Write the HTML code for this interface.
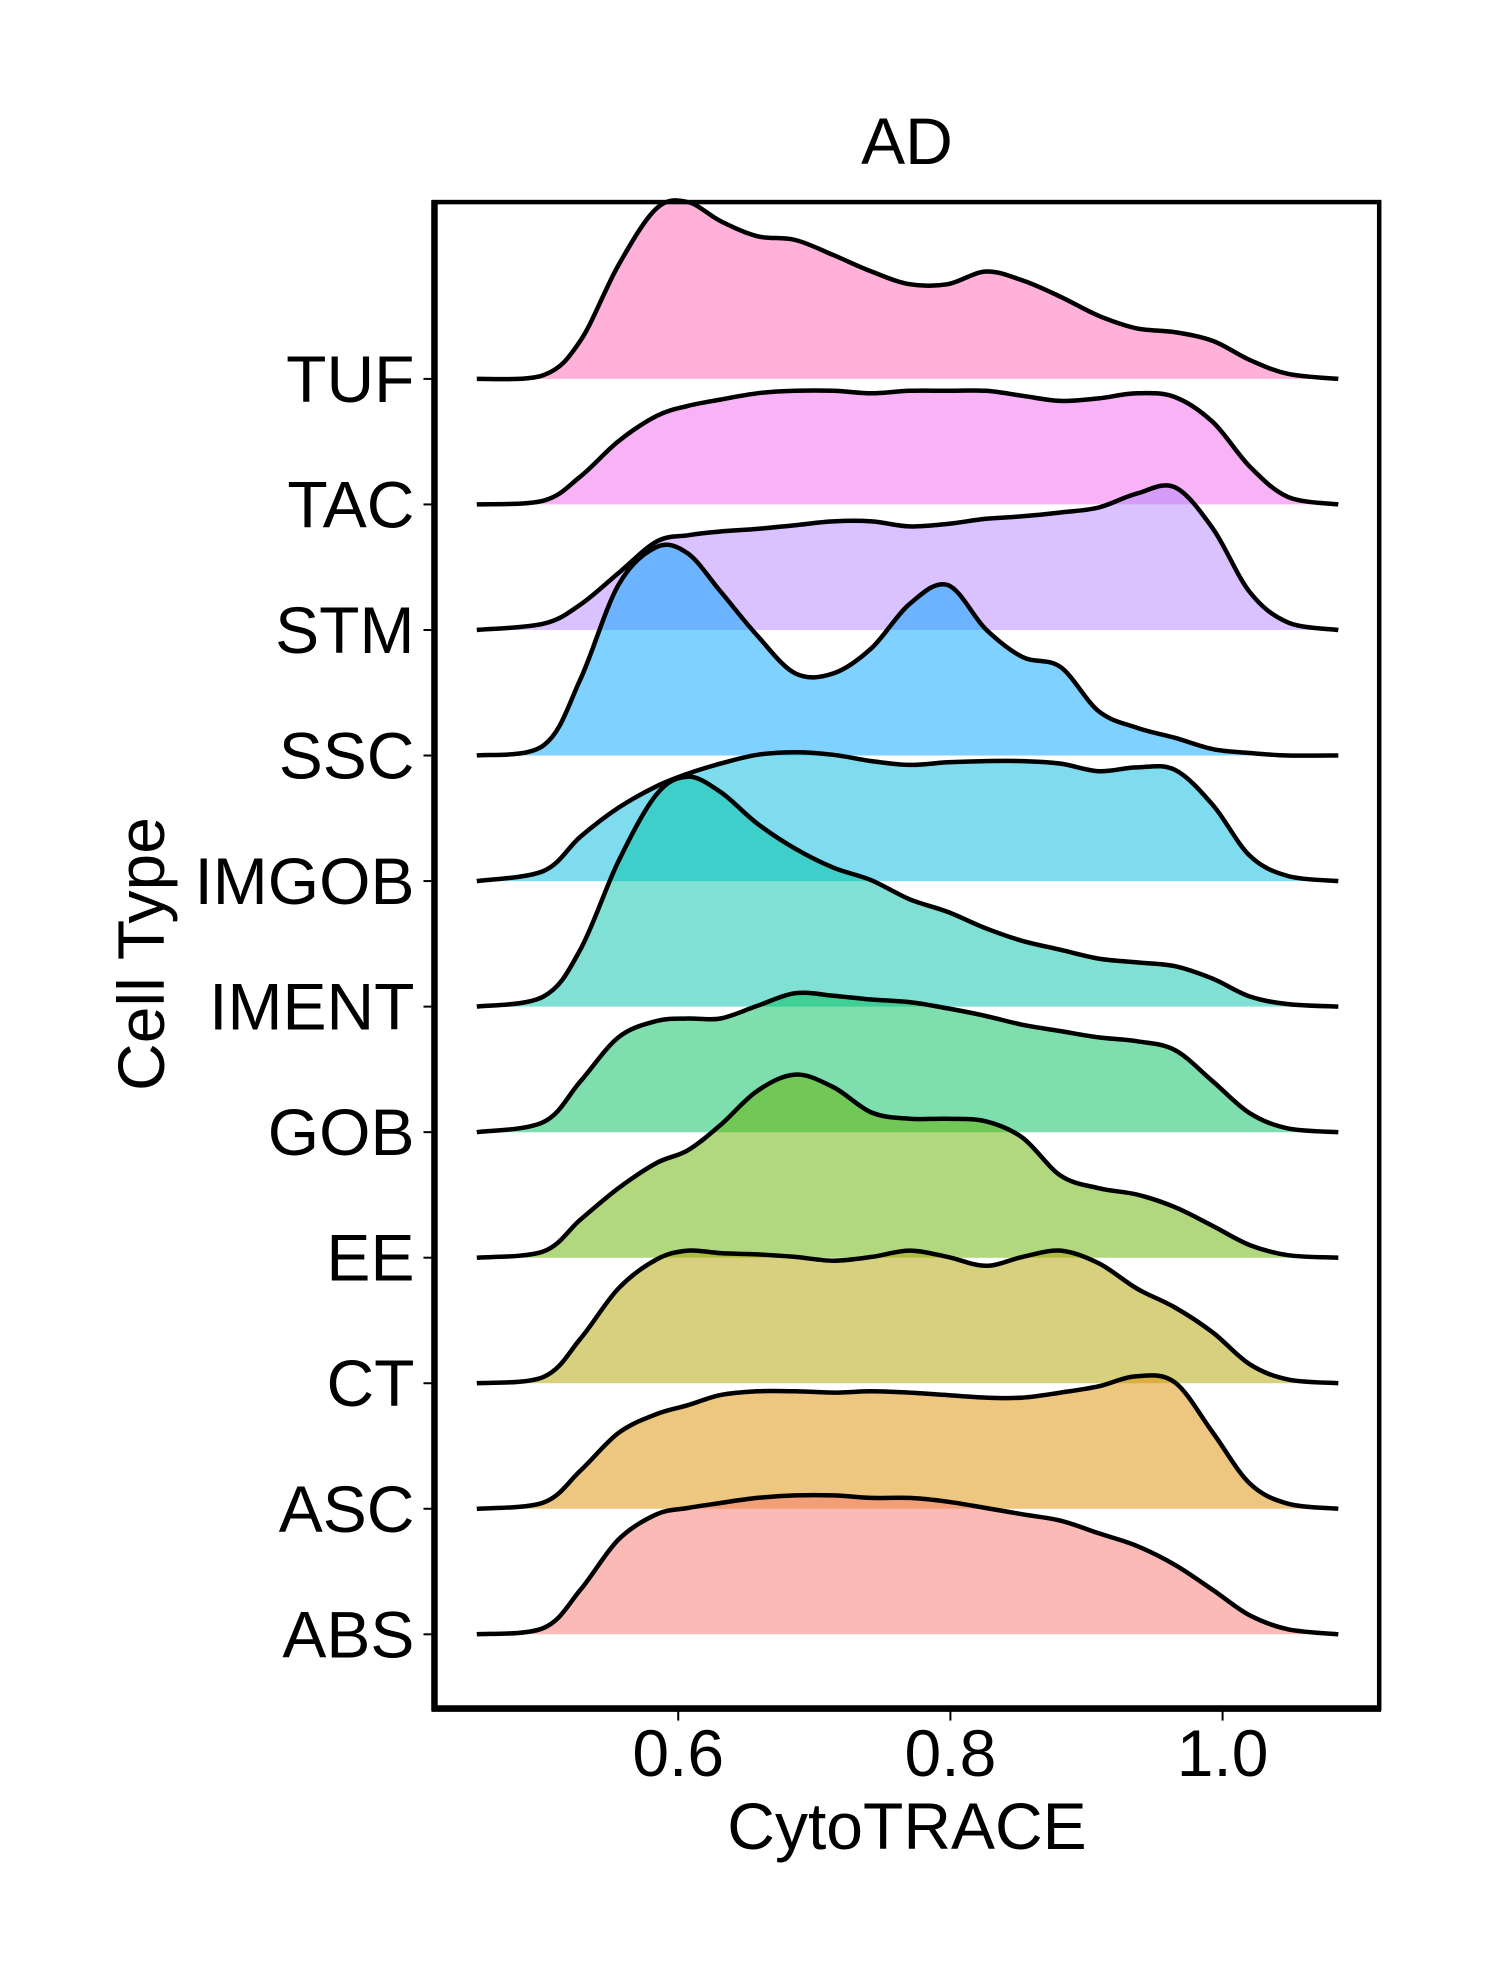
<!DOCTYPE html>
<html><head><meta charset="utf-8"><style>
html,body{margin:0;padding:0;background:#fff;}
svg{display:block;}
text{font-family:"Liberation Sans",sans-serif;fill:#000;}
</style></head><body>
<svg id="chart" width="1500" height="1980" viewBox="0 0 1500 1980" xmlns="http://www.w3.org/2000/svg">
<rect x="0" y="0" width="1500" height="1980" fill="#fff"/>
<g id="ridges"></g>
<g id="axes"></g>
<text x="907" y="164" font-size="66" text-anchor="middle">AD</text>
<text x="907" y="1849" font-size="66" text-anchor="middle">CytoTRACE</text>
<text x="0" y="0" font-size="66" text-anchor="middle" transform="translate(164,954) rotate(-90)">Cell Type</text>
</svg>
<script>
const categories = ["ABS","ASC","CT","EE","GOB","IMENT","IMGOB","SSC","STM","TAC","TUF"];
const colors = ["#F8766D","#DB8E00","#AEA200","#64B200","#00BD5C","#00C1A7","#00BADE","#00A6FF","#B385FF","#EF67EB","#FF63B6"];
const xGrid = [0.452,0.501,0.528,0.556,0.584,0.607,0.631,0.658,0.686,0.714,0.742,0.770,0.798,0.826,0.853,0.881,0.909,0.937,0.965,0.993,1.020,1.048,1.085];
const dABS   = [0,5,35,75,95,100,104,108,110,110,108,108,105,100,95,90,80,70,55,35,15,4,0];
const dASC   = [0,5,30,60,75,82,90,93,93,92,93,92,90,88,88,92,97,105,100,60,20,4,0];
const dCT    = [0,5,35,75,98,105,103,102,100,97,100,105,100,93,100,105,95,75,60,40,15,3,0];
const dEE    = [0,5,30,55,75,85,105,132,145,135,115,110,110,108,95,65,55,50,40,25,10,2,0];
const dGOB   = [0,8,40,75,88,90,90,100,110,108,105,103,98,92,85,80,75,72,65,40,15,3,0];
const dIMENT = [0,8,45,115,168,182,170,145,125,110,100,85,75,62,52,45,38,35,32,22,8,2,0];
const dIMGOB = [0,8,35,58,75,85,93,100,102,100,95,92,94,95,95,93,87,90,88,60,20,4,0];
const dSSC   = [0,8,60,135,165,160,130,95,65,65,85,120,135,100,78,70,35,22,14,5,2,0,0];
const dSTM   = [0,5,20,45,70,75,78,80,83,86,86,82,84,88,90,93,97,108,113,80,30,6,0];
const dTAC   = [0,3,22,50,70,78,83,88,90,90,88,90,90,90,86,82,84,88,85,65,30,6,0];
const dTUF   = [0,3,30,90,135,140,125,113,110,98,85,75,75,85,78,65,50,40,37,30,15,4,0];
const densities = [dABS,dASC,dCT,dEE,dGOB,dIMENT,dIMGOB,dSSC,dSTM,dTAC,dTUF];
const xTicks = [0.6,0.8,1.0];
const xTickLabels = ["0.6","0.8","1.0"];

const S = 1.263;
const frame = {l:344*S, r:1092*S, t:160*S, b:1352*S};
function xScale(v){ return (537 + (v-0.6)*1077.5)*S; }
function baseY(i){ return (1294 - i*99.4)*S; }
function hScale(h){ return h*S; }
const NS = "http://www.w3.org/2000/svg";

function smoothPath(pts){
  let d = "M"+pts[0][0].toFixed(1)+","+pts[0][1].toFixed(1);
  for(let i=0;i<pts.length-1;i++){
    const p0=pts[Math.max(i-1,0)], p1=pts[i], p2=pts[i+1], p3=pts[Math.min(i+2,pts.length-1)];
    const c1=[p1[0]+(p2[0]-p0[0])/6, p1[1]+(p2[1]-p0[1])/6];
    const c2=[p2[0]-(p3[0]-p1[0])/6, p2[1]-(p3[1]-p1[1])/6];
    d += " C"+c1[0].toFixed(1)+","+c1[1].toFixed(1)+" "+c2[0].toFixed(1)+","+c2[1].toFixed(1)+" "+p2[0].toFixed(1)+","+p2[1].toFixed(1);
  }
  return d;
}

const ridges = document.getElementById("ridges");
for(let i=categories.length-1;i>=0;i--){
  const by = baseY(i);
  const pts = xGrid.map((v,k)=>[xScale(v), by - hScale(densities[i][k])]);
  const line = smoothPath(pts);
  const g = document.createElementNS(NS,"g");
  
  
  const fill = document.createElementNS(NS,"path");
  fill.setAttribute("d", line+" L"+pts[pts.length-1][0].toFixed(1)+","+by.toFixed(1)+" L"+pts[0][0].toFixed(1)+","+by.toFixed(1)+" Z");
  fill.setAttribute("fill", colors[i]);
  fill.setAttribute("fill-opacity","0.5");
  
  
  g.appendChild(fill);
  const stroke = document.createElementNS(NS,"path");
  stroke.setAttribute("d", line);
  stroke.setAttribute("fill","none");
  stroke.setAttribute("stroke","#000");
  stroke.setAttribute("stroke-width","4.5");
  stroke.setAttribute("stroke-linejoin","round");
  
  
  g.appendChild(stroke);
  ridges.appendChild(g);
}

const axes = document.getElementById("axes");
function mk(tag, attrs){ const e=document.createElementNS(NS,tag); for(const k in attrs) e.setAttribute(k,attrs[k]); return e; }
const box = mk("rect",{x:frame.l,y:frame.t,width:frame.r-frame.l,height:frame.b-frame.t,fill:"none",stroke:"#000","stroke-width":"4.5"});


axes.appendChild(box);
const yAxis = mk("line",{x1:frame.l,y1:frame.t-2,x2:frame.l,y2:frame.b+3,stroke:"#000","stroke-width":"6.5"});


axes.appendChild(yAxis);
const xAxis = mk("line",{x1:frame.l-3,y1:frame.b+1,x2:frame.r+2,y2:frame.b+1,stroke:"#000","stroke-width":"6.5"});


axes.appendChild(xAxis);

categories.forEach((c,i)=>{
  const y = baseY(i);
  const t = mk("line",{x1:frame.l-11,y1:y,x2:frame.l,y2:y,stroke:"#000","stroke-width":"2"});
  
  
  axes.appendChild(t);
  const lab = mk("text",{x:frame.l-20,y:y+23,"font-size":"66","text-anchor":"end"});
  lab.textContent = c;
  
  
  axes.appendChild(lab);
});
xTicks.forEach((v,k)=>{
  const x = xScale(v);
  const t = mk("line",{x1:x,y1:frame.b+3,x2:x,y2:frame.b+13,stroke:"#000","stroke-width":"2"});
  
  
  axes.appendChild(t);
  const lab = mk("text",{x:x,y:1776,"font-size":"66","text-anchor":"middle"});
  lab.textContent = xTickLabels[k];
  
  
  axes.appendChild(lab);
});
</script>
</body></html>
